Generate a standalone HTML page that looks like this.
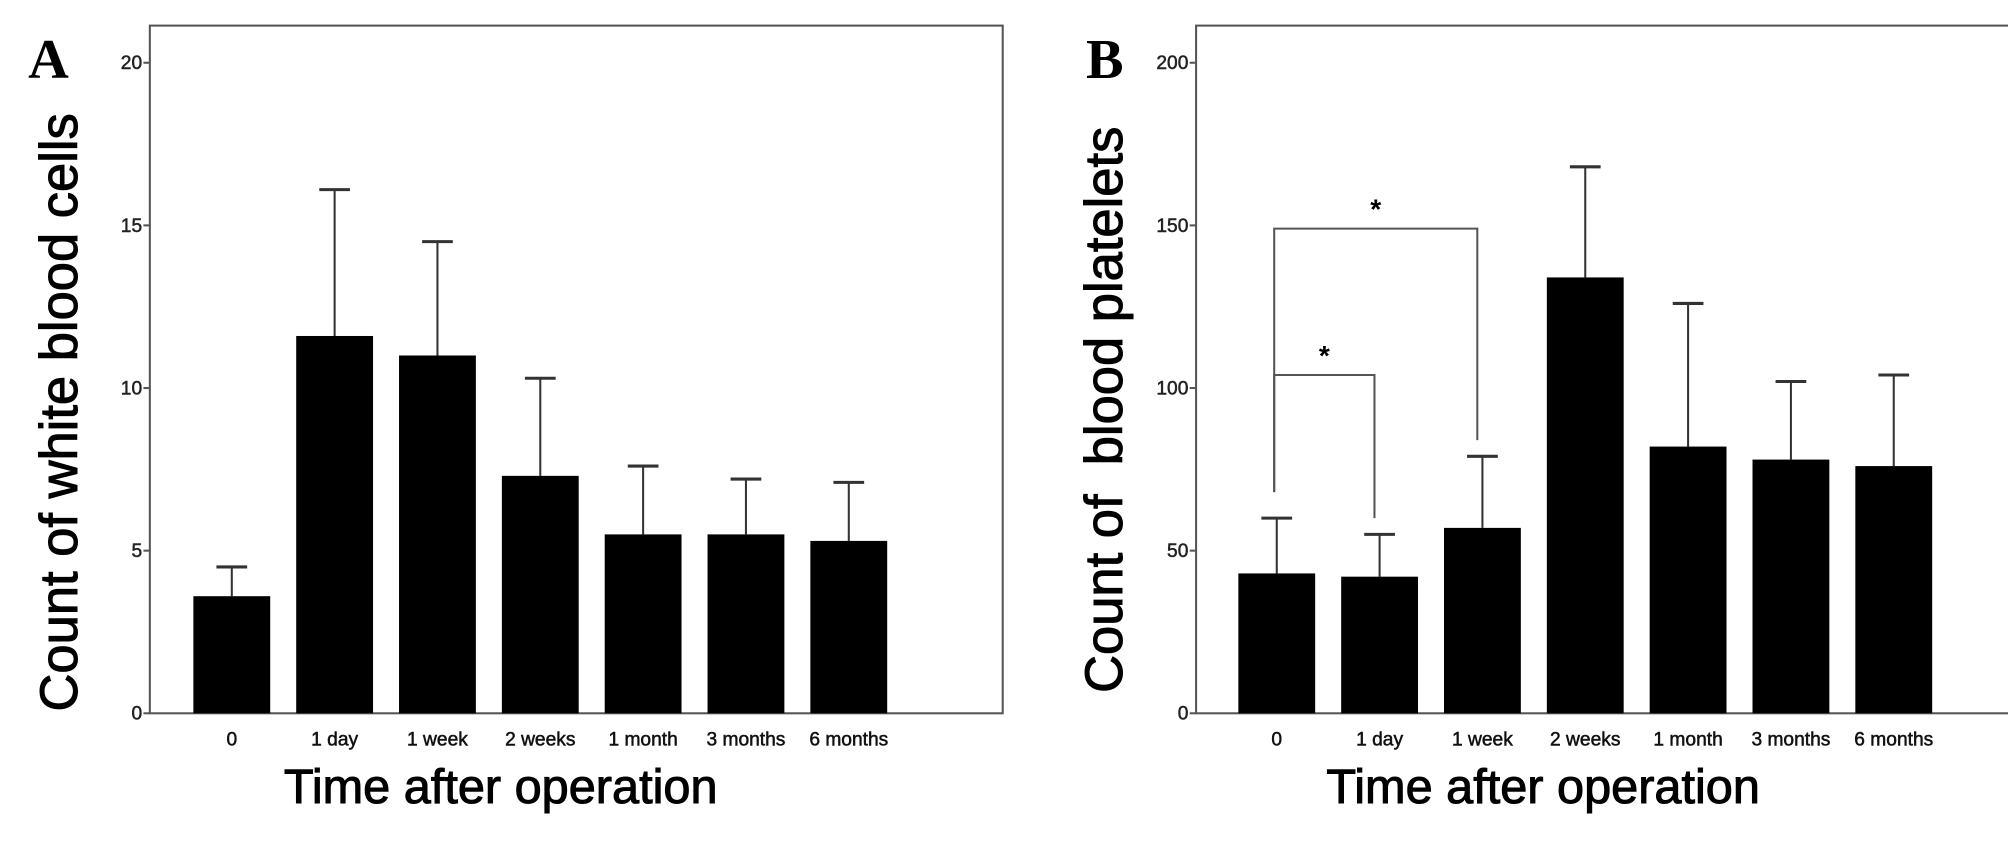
<!DOCTYPE html>
<html><head><meta charset="utf-8"><style>
html,body{margin:0;padding:0;background:#fff;}
svg{display:block;}
.pre{white-space:pre;}
</style></head><body>
<svg id="fig" width="2008" height="853" viewBox="0 0 2008 853" xmlns="http://www.w3.org/2000/svg" font-family="Liberation Sans, Arial, sans-serif">
<rect width="2008" height="853" fill="#fff"/>
<g id="root" transform="scale(1.2806)"></g>
</svg>
<script>
const categories = ["0","1 day","1 week","2 weeks","1 month","3 months","6 months"];
const wbcValues = [3.6, 11.6, 11.0, 7.3, 5.5, 5.5, 5.3];
const wbcUpper = [4.5, 16.1, 14.5, 10.3, 7.6, 7.2, 7.1];
const wbcTicks = [0, 5, 10, 15, 20];
const pltValues = [43, 42, 57, 134, 82, 78, 76];
const pltUpper = [60, 55, 79, 168, 126, 102, 104];
const pltTicks = [0, 50, 100, 150, 200];
const brackets = [
  {from:0, to:1, level:104, leftEnd:68, rightEnd:60},
  {from:0, to:2, level:149, leftEnd:68, rightEnd:84}
];
const NS = "http://www.w3.org/2000/svg";
const root = document.getElementById('root');
function mk(tag, attrs, parent){
  const e = document.createElementNS(NS, tag);
  for (const k in attrs) e.setAttribute(k, attrs[k]);
  (parent||root).appendChild(e);
  return e;
}
function panel(cfg){
  const g = mk('g', {});
  
  
  const L=cfg.left, R=cfg.right, T=20, B=557, y0=557, yTop=49, max=cfg.max;
  const y = v => y0 - (v/max)*(y0-yTop);
  const x = i => cfg.x0 + i*80.3;
  const frame = mk('rect', {x:L, y:T, width:R-L, height:B-T, fill:'none', stroke:'#555', 'stroke-width':1.6}, g);
  
  
  cfg.ticks.forEach(t=>{
    mk('line', {x1:L-5, x2:L, y1:y(t), y2:y(t), stroke:'#555', 'stroke-width':1.6}, g);
    const tx = mk('text', {x:L-6, y:y(t)+5, 'text-anchor':'end', 'font-size':15, fill:'#222', stroke:'#222', 'stroke-width':0.4}, g);
    tx.textContent = t;
    
    
  });
  categories.forEach((c,i)=>{
    const cx = x(i);
    const eb = mk('line', {x1:cx, x2:cx, y1:y(cfg.upper[i]), y2:y(cfg.values[i]), stroke:'#333', 'stroke-width':1.6}, g);
    
    
    mk('line', {x1:cx-12, x2:cx+12, y1:y(cfg.upper[i]), y2:y(cfg.upper[i]), stroke:'#333', 'stroke-width':2.4}, g);
    const bar = mk('rect', {x:cx-30, y:y(cfg.values[i]), width:60, height:y0-y(cfg.values[i]), fill:'#000'}, g);
    
    
    const lab = mk('text', {x:cx, y:582, 'text-anchor':'middle', 'font-size':15, fill:'#111', stroke:'#111', 'stroke-width':0.4}, g);
    lab.textContent = c;
    
    
  });
  const xt = mk('text', {x:cfg.xtx, y:627, 'text-anchor':'middle', 'font-size':38, fill:'#000', stroke:'#000', 'stroke-width':0.8}, g);
  xt.textContent = 'Time after operation';
  
  
  const yt = mk('text', {x:0, y:0, 'text-anchor':'middle', 'font-size':41, fill:'#000', stroke:'#000', 'stroke-width':0.8, class:'pre', transform:`translate(${cfg.ytx},${cfg.yty}) rotate(-90)`}, g);
  yt.textContent = cfg.ytitle;
  
  
  const pl = mk('text', {x:cfg.lx, y:61, 'font-size':44, 'font-weight':'bold', 'font-family':'Liberation Serif, serif', fill:'#000'}, g);
  pl.textContent = cfg.letter;
  
  
  if (cfg.brackets){
    cfg.brackets.forEach(b=>{
      const x1=x(b.from)-2, x2=x(b.to)-4, yl=y(b.level);
      const p = mk('path', {d:`M${x1},${y(b.leftEnd)} V${yl} H${x2} V${y(b.rightEnd)}`, fill:'none', stroke:'#555', 'stroke-width':1.6}, g);
      
      
      const s = mk('text', {x:(x1+x2)/2, y:yl-8, 'text-anchor':'middle', 'font-size':22, 'font-weight':'bold', fill:'#000'}, g);
      s.textContent = '*';
      
      
    });
  }
}
panel({name:'panel-a', left:117, right:783, x0:181, max:20, ticks:wbcTicks, values:wbcValues, upper:wbcUpper, ytitle:'Count of white blood cells', ytx:60, yty:322, xtx:391, letter:'A', lx:22});
panel({name:'panel-b', left:934, right:1598, x0:997, max:200, ticks:pltTicks, values:pltValues, upper:pltUpper, ytitle:'Count of  blood platelets', ytx:876, yty:320, xtx:1205, letter:'B', lx:848, brackets:brackets});
</script>
</body></html>
